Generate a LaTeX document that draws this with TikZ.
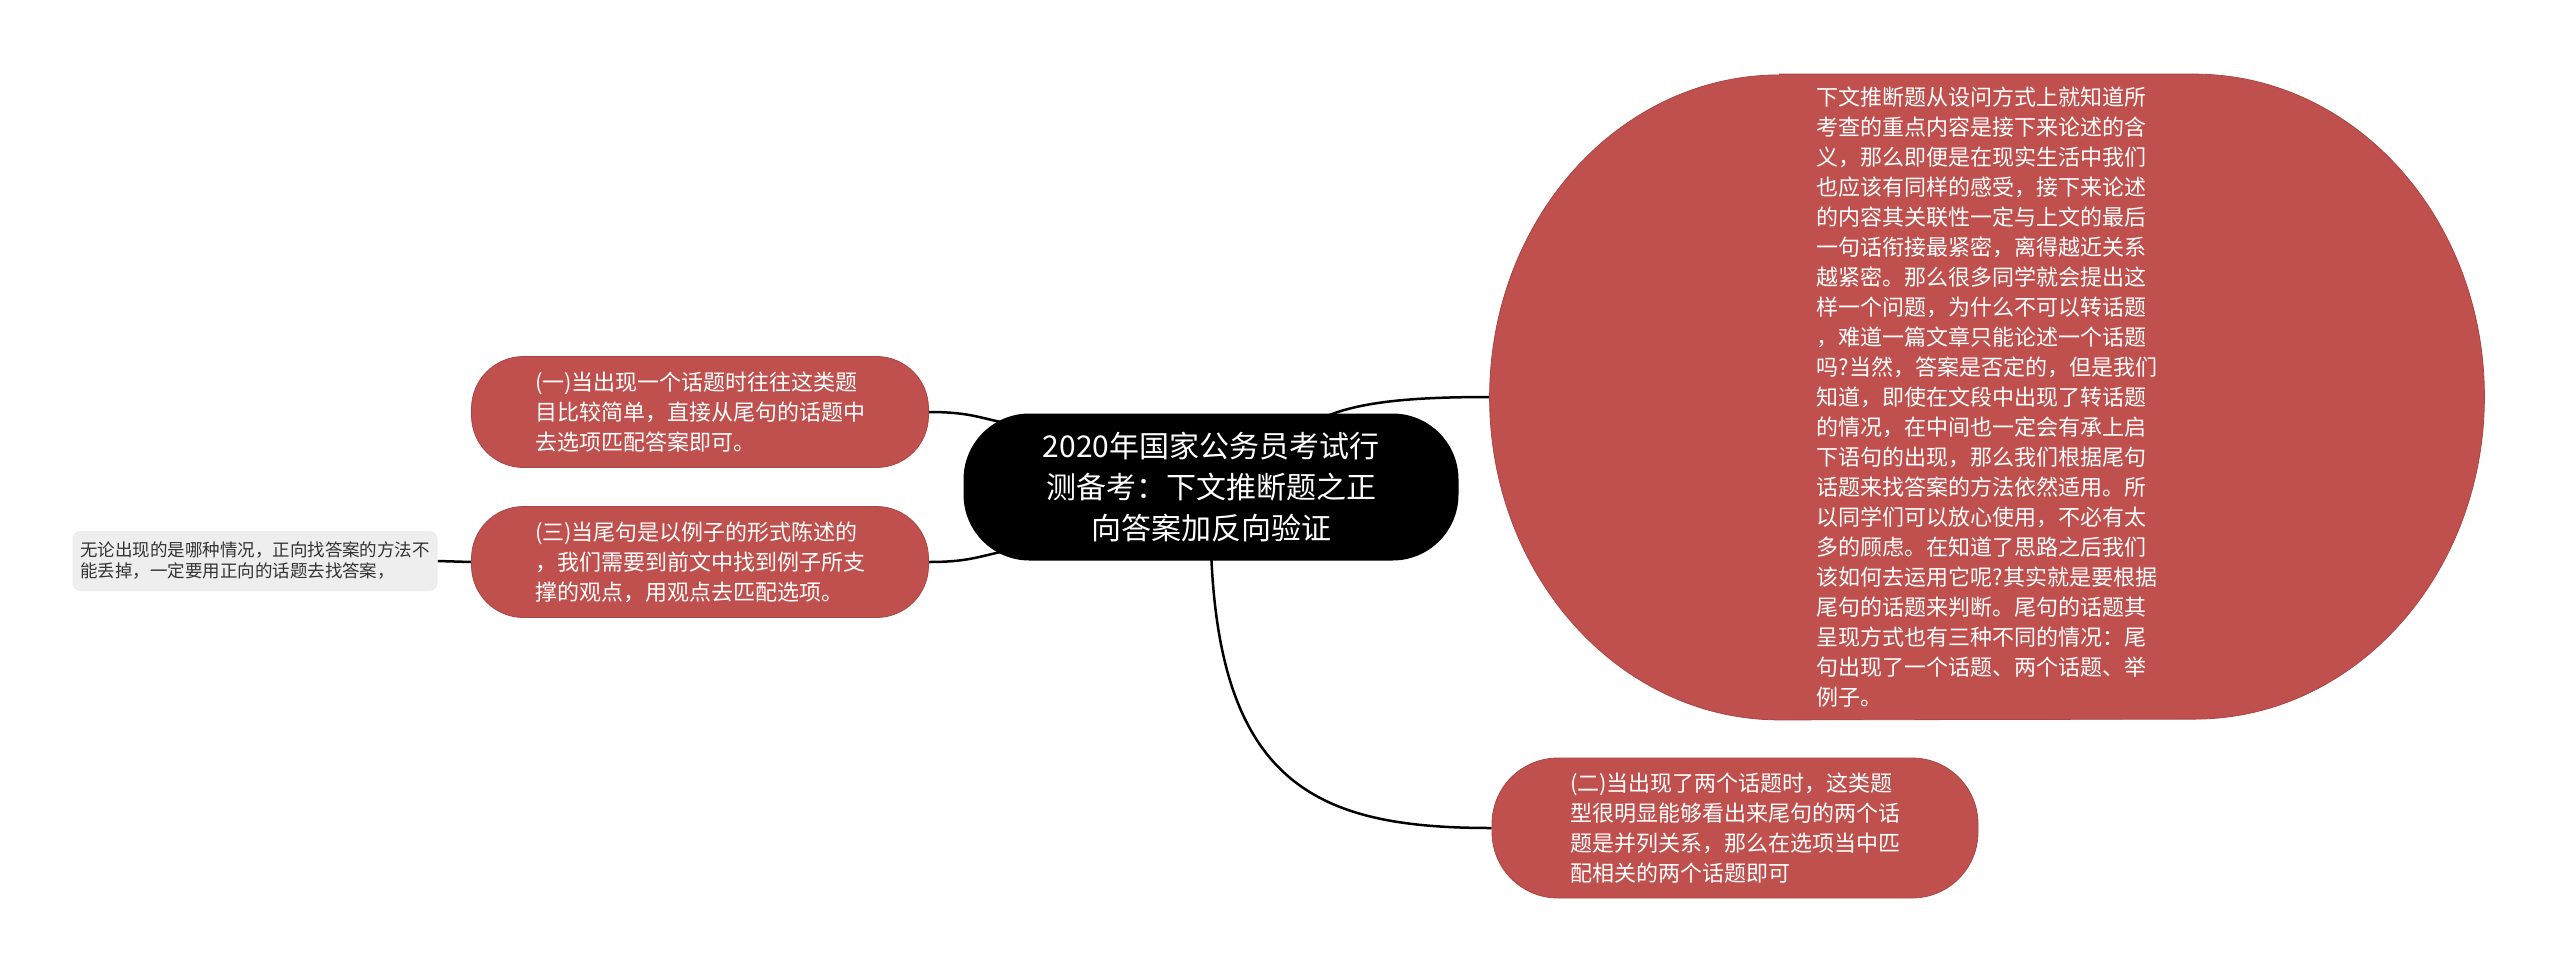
\documentclass[tikz,border=0pt]{standalone}
\usepackage{fontspec}
\setmainfont{Noto Sans CJK SC}
\usetikzlibrary{positioning,backgrounds}
\definecolor{cRed}{HTML}{C0504D}
\definecolor{cNote}{HTML}{EEEEEE}
\definecolor{cText}{HTML}{333333}

\begin{document}
\begin{tikzpicture}[
    x=1pt, y=-1pt,
    box/.style={rounded corners=52pt, align=left, inner sep=0pt, text=white},
    root/.style={box, fill=black, align=center, minimum width=495pt, minimum height=147pt, rounded corners=66pt, font=\fontsize{30}{41}\selectfont},
    topic/.style={box, fill=cRed, draw=cRed!88!black, line width=0.8pt, font=\fontsize{22}{30}\selectfont},
    note/.style={rounded corners=8pt, fill=cNote, text=cText, align=left, minimum width=365pt, minimum height=60pt, inner sep=0pt, font=\fontsize{17.5}{21}\selectfont},
    link/.style={line width=2.5pt, black}
]
\useasboundingbox (0,0) rectangle (2560,975);

\node[root] (root) at (1211,487) {2020年国家公务员考试行\\测备考：下文推断题之正\\向答案加反向验证};

\node[topic, minimum width=457pt, minimum height=111pt] (one) at (700,412) {(一)当出现一个话题时往往这类题\\目比较简单，直接从尾句的话题中\\去选项匹配答案即可。};
\node[topic, minimum width=457pt, minimum height=111pt] (three) at (700,562) {(三)当尾句是以例子的形式陈述的\\，我们需要到前文中找到例子所支\\撑的观点，用观点去匹配选项。};
\node[note] (hint) at (255,561) {无论出现的是哪种情况，正向找答案的方法不\\能丢掉，一定要用正向的话题去找答案，};

% big bubble: text only, its oval outline is filled on the background layer
\node[topic, fill=none, draw=none, minimum width=994pt, minimum height=645pt] (detail) at (1987,397) {下文推断题从设问方式上就知道所\\考查的重点内容是接下来论述的含\\义，那么即便是在现实生活中我们\\也应该有同样的感受，接下来论述\\的内容其关联性一定与上文的最后\\一句话衔接最紧密，离得越近关系\\越紧密。那么很多同学就会提出这\\样一个问题，为什么不可以转话题\\，难道一篇文章只能论述一个话题\\吗?当然，答案是否定的，但是我们\\知道，即使在文段中出现了转话题\\的情况，在中间也一定会有承上启\\下语句的出现，那么我们根据尾句\\话题来找答案的方法依然适用。所\\以同学们可以放心使用，不必有太\\多的顾虑。在知道了思路之后我们\\该如何去运用它呢?其实就是要根据\\尾句的话题来判断。尾句的话题其\\呈现方式也有三种不同的情况：尾\\句出现了一个话题、两个话题、举\\例子。};

\node[topic, minimum width=486pt, minimum height=140pt, rounded corners=66pt] (two) at (1735,828) {(二)当出现了两个话题时，这类题\\型很明显能够看出来尾句的两个话\\题是并列关系，那么在选项当中匹\\配相关的两个话题即可};

\begin{scope}[on background layer]
\draw[link] (one.east) .. controls +(50,0) and +(-40,-4) .. ([xshift=60pt,yshift=-12pt]root.north west);
\draw[link] (three.east) .. controls +(50,0) and +(-40,4) .. ([xshift=60pt,yshift=12pt]root.south west);
\draw[link] (hint.east) -- (three.west);
\draw[link] ([xshift=-150pt,yshift=-12pt]root.north east) .. controls +(35,-22) and +(-90,0) .. (detail.west);
\draw[link] ([yshift=12pt]root.south) .. controls +(8,240) and +(-170,0) .. (two.west);
\fill[cRed, draw=cRed!88!black, line width=0.8pt] ([xshift=290pt]detail.north west) -- ([xshift=-290pt]detail.north east)
    arc[start angle=90, end angle=-90, x radius=290pt, y radius=322.5pt]
    -- ([xshift=290pt]detail.south west)
    arc[start angle=270, end angle=90, x radius=290pt, y radius=322.5pt] -- cycle;
\end{scope}
\end{tikzpicture}
\end{document}
